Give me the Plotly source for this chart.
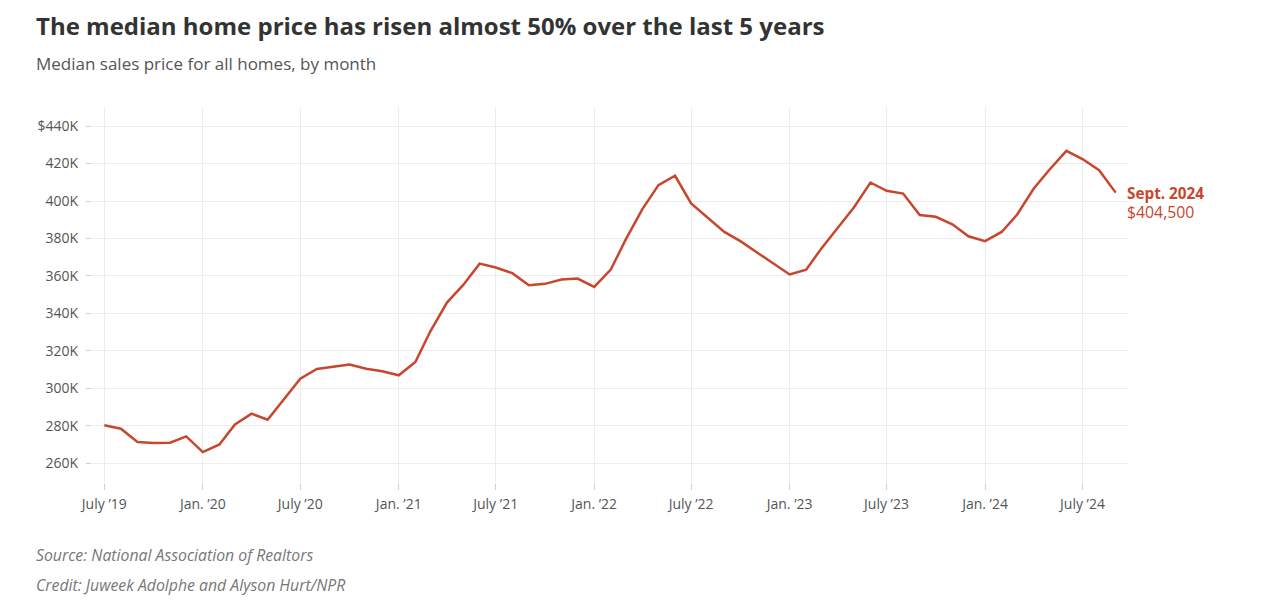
import plotly.graph_objects as go
import pandas as pd

months = pd.date_range("2019-07-01", "2024-09-01", freq="MS")
prices_k = [
    280.3, 278.5, 271.4, 270.8, 271.0, 274.4,
    266.0, 270.1, 280.8, 286.5, 283.3, 294.2, 305.2, 310.4, 311.4, 312.7, 310.5, 309.1,
    307.0, 314.1, 330.5, 345.8, 355.1, 366.6, 364.5, 361.5, 355.1, 355.8, 358.1, 358.6,
    354.2, 363.4, 379.5, 395.7, 408.5, 413.5, 398.7, 391.2, 383.5, 378.6, 372.5, 366.6,
    360.8, 363.4, 374.6, 385.7, 396.6, 409.9, 405.5, 404.0, 392.5, 391.6, 387.6, 381.2,
    378.6, 383.5, 392.8, 406.7, 417.0, 426.8, 422.4, 416.5, 404.5,
]
prices = [p * 1000 for p in prices_k]

x_tick_dates = ["2019-07-01", "2020-01-01", "2020-07-01", "2021-01-01", "2021-07-01",
                "2022-01-01", "2022-07-01", "2023-01-01", "2023-07-01", "2024-01-01", "2024-07-01"]
x_tick_labels = ["July \u201919", "Jan. \u201920", "July \u201920", "Jan. \u201921", "July \u201921",
                 "Jan. \u201922", "July \u201922", "Jan. \u201923", "July \u201923", "Jan. \u201924", "July \u201924"]
y_tick_vals = [260000, 280000, 300000, 320000, 340000, 360000, 380000, 400000, 420000, 440000]
y_tick_labels = ["260K", "280K", "300K", "320K", "340K", "360K", "380K", "400K", "420K", "$440K"]

LINE = "#c8462d"
FONT = "Open Sans"

# page offset from default body margin
OFF = 8
PL, PR, PT, PB = 92, 1128, 107, 483  # plot area in page pixels

fig = go.Figure()
fig.add_trace(go.Scatter(
    x=months, y=prices, mode="lines",
    line=dict(color=LINE, width=2.5),
    hoverinfo="skip", showlegend=False,
))

W, H = 1266, 610
fig.update_layout(
    width=W, height=H,
    margin=dict(l=PL - OFF, r=W - (PR - OFF), t=PT - OFF, b=H - (PB - OFF)),
    paper_bgcolor="white", plot_bgcolor="white",
    font=dict(family=FONT, color="#555"),
    xaxis=dict(
        range=["2019-06-08", "2024-09-24"],
        tickvals=x_tick_dates, ticktext=x_tick_labels,
        showgrid=True, gridcolor="#ececec", gridwidth=1,
        ticks="outside", ticklen=6, tickcolor="#d0d0d0",
        tickfont=dict(size=14, color="#555"),
        ticklabelstandoff=2,
        zeroline=False, showline=False,
    ),
    yaxis=dict(
        range=[249500, 450200],
        tickvals=y_tick_vals, ticktext=y_tick_labels,
        showgrid=True, gridcolor="#ececec", gridwidth=1,
        ticks="outside", ticklen=5, tickcolor="#d0d0d0",
        tickfont=dict(size=14, color="#555"),
        ticklabelstandoff=5,
        zeroline=False, showline=False,
    ),
)

def px_y(ypix):
    return (PB - ypix) / (PB - PT)

def px_x(xpix):
    return (xpix - PL) / (PR - PL)

anns = [
    dict(text="<b>The median home price has risen almost 50% over the last 5 years</b>",
         x=px_x(34), y=px_y(25), font=dict(size=24, color="#333", family=FONT)),
    dict(text="Median sales price for all homes, by month",
         x=px_x(34), y=px_y(63), font=dict(size=17, color="#555", family=FONT)),
    dict(text="<i>Source: National Association of Realtors</i>",
         x=px_x(34), y=px_y(555), font=dict(size=15.8, color="#777", family=FONT)),
    dict(text="<i>Credit: Juweek Adolphe and Alyson Hurt/NPR</i>",
         x=px_x(34), y=px_y(585), font=dict(size=15.8, color="#777", family=FONT)),
]
for a in anns:
    fig.add_annotation(xref="paper", yref="paper", xanchor="left", yanchor="middle",
                       showarrow=False, align="left", **a)

fig.add_annotation(x=months[-1], y=prices[-1], xref="x", yref="y",
                   text="<b>Sept. 2024</b>", showarrow=False,
                   xanchor="left", yanchor="middle", xshift=9, yshift=0,
                   font=dict(size=15.3, color=LINE, family=FONT))
fig.add_annotation(x=months[-1], y=prices[-1], xref="x", yref="y",
                   text="$404,500", showarrow=False,
                   xanchor="left", yanchor="middle", xshift=9, yshift=-19,
                   font=dict(size=15.8, color=LINE, family=FONT))

fig.write_html("out.html")
